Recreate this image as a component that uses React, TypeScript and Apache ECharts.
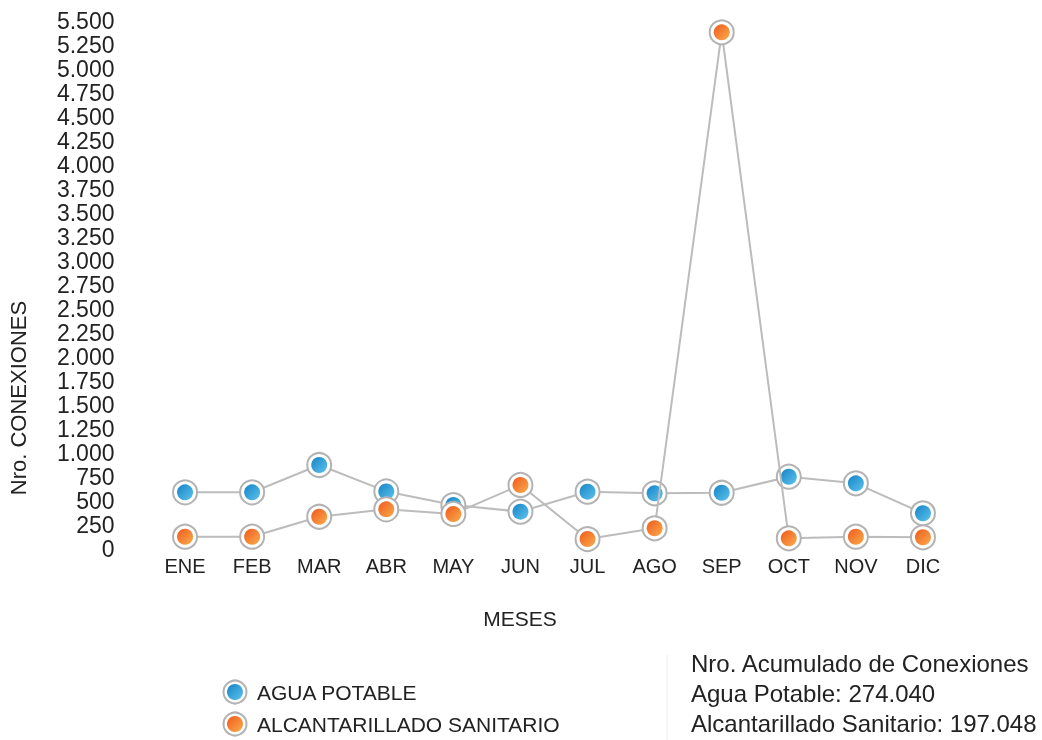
import React, { useEffect, useRef } from "react";
import * as echarts from "echarts";

const months = ["ENE", "FEB", "MAR", "ABR", "MAY", "JUN", "JUL", "AGO", "SEP", "OCT", "NOV", "DIC"];
const aguaPotable = [590, 590, 875, 600, 458, 389, 597, 580, 586, 753, 684, 372];
const alcantarillado = [128, 128, 336, 413, 365, 667, 104, 216, 5382, 111, 128, 122];
const seriesNames = ["AGUA POTABLE", "ALCANTARILLADO SANITARIO"];
const summaryLines = [
  "Nro. Acumulado de Conexiones",
  "Agua Potable: 274.040",
  "Alcantarillado Sanitario: 197.048",
];

const FONT = "Liberation Sans, Arial, sans-serif";
const blueGrad = () =>
  new echarts.graphic.LinearGradient(0, 0, 1, 1, [
    { offset: 0, color: "#1583c6" },
    { offset: 1, color: "#5ec3ec" },
  ]);
const orangeGrad = () =>
  new echarts.graphic.LinearGradient(0, 0, 1, 1, [
    { offset: 0, color: "#ee5a1c" },
    { offset: 1, color: "#fbad4e" },
  ]);

const fmt = (v: number) => String(v).replace(/\B(?=(\d{3})+(?!\d))/g, ".");

export default function App() {
  const ref = useRef<HTMLDivElement>(null);
  useEffect(() => {
    const chart = echarts.init(ref.current!, null, { renderer: "svg" });
    const ringSeries = (name: string, data: number[], z: number) => ({
      type: "line",
      name,
      data,
      z,
      symbol: "circle",
      symbolSize: 24,
      itemStyle: { color: "#ffffff", borderColor: "#b3b3b3", borderWidth: 2 },
      lineStyle: { color: "#bcbcbc", width: 2 },
      emphasis: { disabled: true },
    });
    const dotSeries = (name: string, data: number[], color: any, z: number) => ({
      type: "scatter",
      name,
      data,
      z,
      symbol: "circle",
      symbolSize: 16,
      itemStyle: { color, opacity: 1 },
      emphasis: { disabled: true },
    });
    const legendItem = (y: number, color: any, label: string) => ({
      type: "group",
      children: [
        { type: "circle", shape: { cx: 235, cy: y, r: 11.5 }, style: { fill: "#fff", stroke: "#b3b3b3", lineWidth: 2 } },
        { type: "circle", shape: { cx: 235, cy: y, r: 8 }, style: { fill: color } },
        {
          type: "text",
          x: 257,
          y: y,
          style: { text: label, fill: "#222", font: `21px ${FONT}`, verticalAlign: "middle" },
        },
      ],
    });
    chart.setOption({
      animation: false,
      grid: { left: 151.5, right: 85.5, top: 21, bottom: 191 },
      xAxis: {
        type: "category",
        data: months,
        boundaryGap: true,
        axisLine: { show: false },
        axisTick: { show: false },
        axisLabel: { color: "#222", fontSize: 20, fontFamily: FONT, margin: 7 },
      },
      yAxis: {
        type: "value",
        min: 0,
        max: 5500,
        interval: 250,
        axisLine: { show: false },
        axisTick: { show: false },
        splitLine: { show: false },
        axisLabel: { color: "#222", fontSize: 23, fontFamily: FONT, margin: 37, formatter: (v: number) => fmt(v) },
      },
      series: [
        ringSeries(seriesNames[0], aguaPotable, 3),
        dotSeries(seriesNames[0], aguaPotable, blueGrad(), 4),
        ringSeries(seriesNames[1], alcantarillado, 5),
        dotSeries(seriesNames[1], alcantarillado, orangeGrad(), 6),
      ],
      graphic: [
        {
          type: "text",
          x: 18,
          y: 398,
          rotation: Math.PI / 2,
          style: { text: "Nro. CONEXIONES", fill: "#222", font: `22px ${FONT}`, align: "center", verticalAlign: "middle" },
        },
        {
          type: "text",
          x: 520,
          y: 618,
          style: { text: "MESES", fill: "#222", font: `21px ${FONT}`, align: "center", verticalAlign: "middle" },
        },
        legendItem(692, blueGrad(), seriesNames[0]),
        legendItem(724, orangeGrad(), seriesNames[1]),
        { type: "line", shape: { x1: 667, y1: 655, x2: 667, y2: 740 }, style: { stroke: "#ececec", lineWidth: 1 } },
        ...summaryLines.map((t, i) => ({
          type: "text",
          x: 691,
          y: 663 + i * 30,
          style: { text: t, fill: "#222", font: `24px ${FONT}`, verticalAlign: "middle" },
        })),
      ],
    });
    return () => chart.dispose();
  }, []);
  return <div ref={ref} style={{ position: "fixed", left: 0, top: 0, width: 1042, height: 740 }} />;
}
